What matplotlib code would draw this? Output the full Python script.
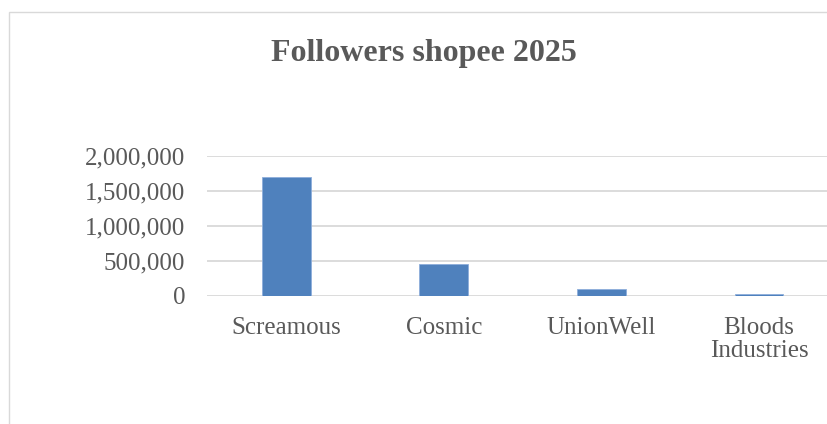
import matplotlib.pyplot as plt
from matplotlib.patches import Rectangle
from matplotlib.ticker import FuncFormatter

# data
shops = ['Screamous', 'Cosmic', 'UnionWell', 'Bloods\nIndustries']
followers = [1700000, 450000, 92000, 30000]
yticks = [0, 500000, 1000000, 1500000, 2000000]

title = 'Followers shopee 2025'
text_color = '#595959'
grid_color = '#d9d9d9'
bar_color = '#4f81bd'


def plot():
	fig = plt.figure(figsize=(8.27, 4.24), dpi=100)

	# chart frame (cropped on right / bottom in the reference)
	fig.patches.append(Rectangle((9 / 827, -0.2), 1.2, 1.2 - 12 / 424,
		transform=fig.transFigure, fill=False, edgecolor=grid_color,
		linewidth=1.0, clip_on=False))

	ax = fig.add_axes([0.2508, 0.3026, 0.7623, 0.3295])
	x = range(len(shops))
	ax.bar(x, followers, width=0.31, color=bar_color, edgecolor='#8eaedb',
		linewidth=0.6, zorder=3)

	ax.set_xlim(-0.5, 3.5)
	ax.set_ylim(0, 2000000)
	ax.set_yticks(yticks)
	ax.yaxis.set_major_formatter(FuncFormatter(lambda v, p: f'{int(v):,}'))
	ax.set_xticks(list(x))
	ax.set_xticklabels(shops, linespacing=1.1)

	for s in ax.spines.values():
		s.set_visible(False)
	ax.grid(axis='y', color=grid_color, linewidth=1.3, zorder=0)
	ax.set_axisbelow(True)
	ax.tick_params(length=0, labelsize=18, labelcolor=text_color)
	ax.tick_params(axis='y', pad=16)
	ax.tick_params(axis='x', pad=15)
	for lab in ax.get_xticklabels() + ax.get_yticklabels():
		lab.set_fontfamily('Liberation Serif')

	fig.text(424 / 827, 1 - 53 / 424, title, ha='center', va='center',
		fontsize=23, fontweight='bold', color=text_color,
		family='Liberation Serif')

	fig.savefig('out.png', dpi=100)


if __name__ == "__main__":
	plot()
